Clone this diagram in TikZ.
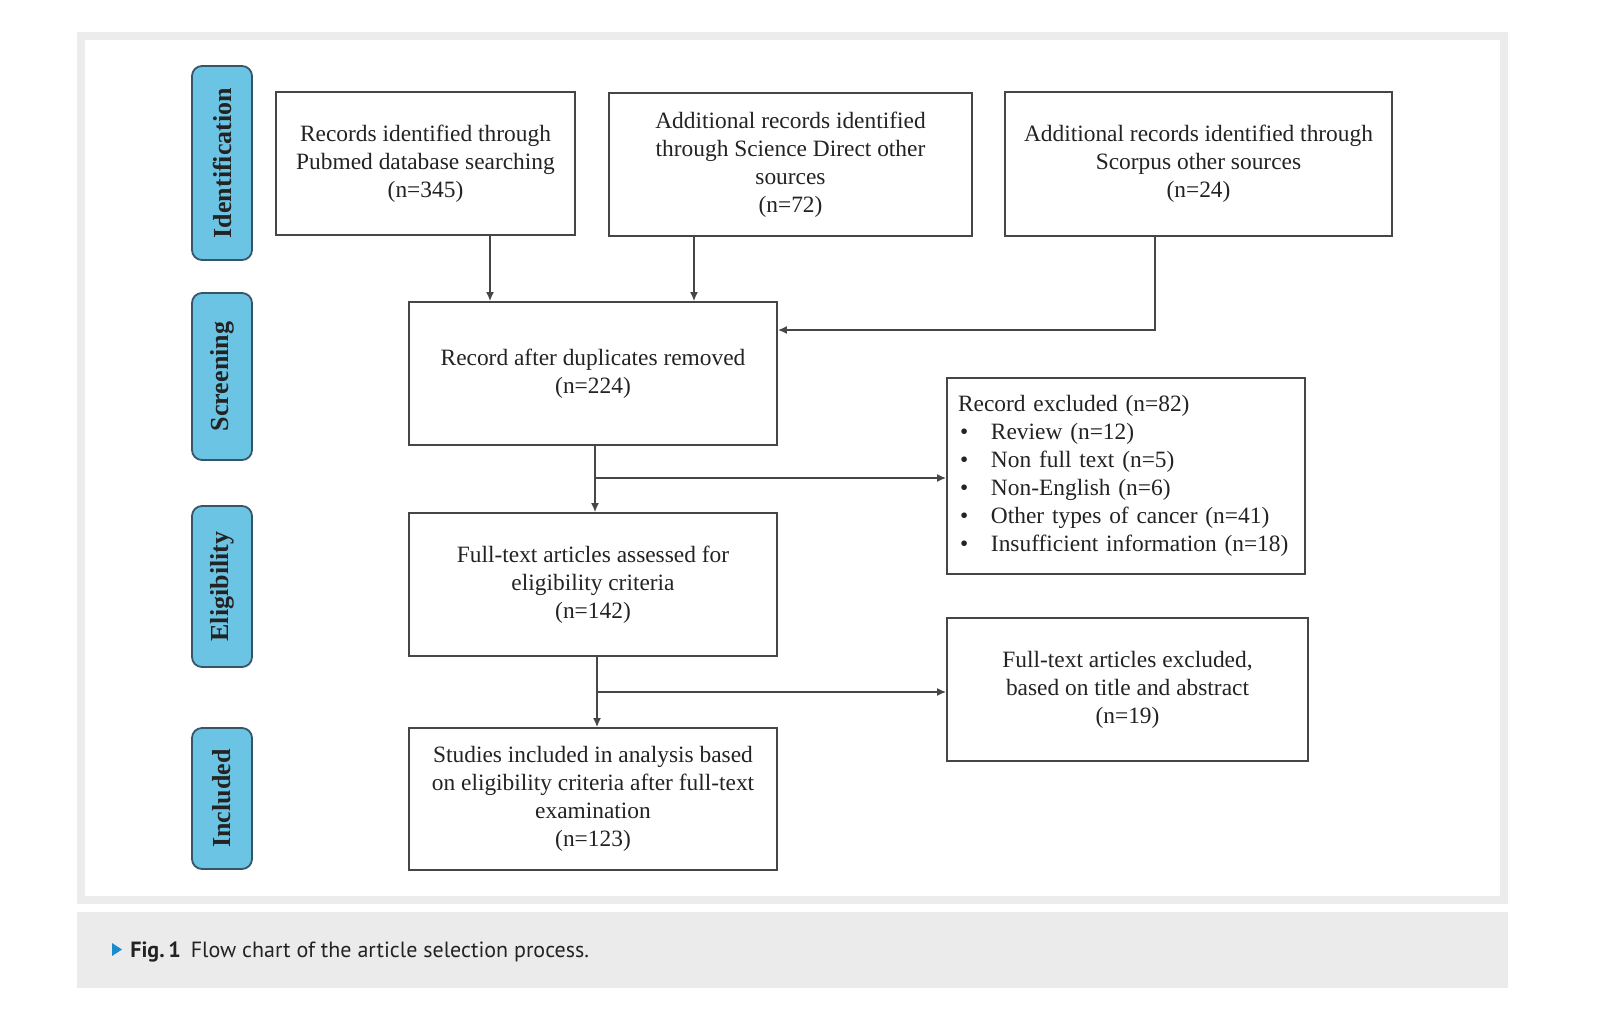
\documentclass[tikz,border=0pt]{standalone}
\usepackage{fontspec}
\setmainfont{Liberation Serif}
\newfontfamily\capfont{PT Sans}
\usetikzlibrary{arrows.meta,calc}
\definecolor{framegray}{RGB}{236,236,236}
\definecolor{capgray}{RGB}{235,235,235}
\definecolor{linegray}{RGB}{70,70,70}
\definecolor{txtgray}{RGB}{35,35,35}
\definecolor{tabblue}{RGB}{108,196,228}
\definecolor{tabedge}{RGB}{55,85,105}
\definecolor{capblue}{RGB}{25,140,205}
\tikzset{
  box/.style={draw=linegray, line width=0.9pt, fill=white, inner sep=0pt, align=center,
    text=txtgray, font=\fontsize{11.7}{14}\selectfont},
  tab/.style={draw=tabedge, line width=0.9pt, fill=tabblue, rounded corners=5pt, rotate=90,
    inner sep=0pt, minimum height=30pt, text=txtgray, font=\fontsize{13}{15}\selectfont\bfseries},
  arr/.style={draw=linegray, line width=0.8pt, -{Latex[length=4.5pt,width=4pt]}},
  ln/.style={draw=linegray, line width=0.8pt}
}
\begin{document}
\begin{tikzpicture}[x=0.5pt,y=-0.5pt]
\useasboundingbox (0,0) rectangle (1600,1034);
\fill[white] (0,0) rectangle (1600,1034);
% frame
\fill[framegray] (77,32) rectangle (1508,904);
\fill[white] (85,40) rectangle (1500,896);
% caption band
\fill[capgray] (77,912) rectangle (1508,988);
\fill[capblue] (112,943) -- (122,949.5) -- (112,956) -- cycle;
\node[anchor=base west, inner sep=0pt, text=txtgray, font=\capfont\fontsize{11}{13}\selectfont] (cap) at (130,957)
  {\textbf{Fig.\,1}\hspace{5pt}Flow chart of the article selection process.};
% side tabs
\node[tab, minimum width=97pt] (t1) at (222,163) {Identification};
\node[tab, minimum width=83.5pt] (t2) at (222,376.5) {Screening};
\node[tab, minimum width=80.5pt] (t3) at (222,586.5) {Eligibility};
\node[tab, minimum width=70.5pt] (t4) at (222,798.5) {Included};
% boxes
\node[box, minimum width=149.5pt, minimum height=71.5pt] (A) at (425.5,163.5)
  {Records identified through\\Pubmed database searching\\(n=345)};
\node[box, minimum width=181.5pt, minimum height=71.5pt] (B) at (790.5,164.5)
  {Additional records identified\\through Science Direct other\\sources\\(n=72)};
\node[box, minimum width=193.5pt, minimum height=72pt] (C) at (1198.5,164)
  {Additional records identified through\\Scorpus other sources\\(n=24)};
\node[box, minimum width=184pt, minimum height=71.5pt] (D) at (593,373.5)
  {Record after duplicates removed\\(n=224)};
\node[box, minimum width=179pt, minimum height=98pt, align=left, inner xsep=5.5pt, text width=168pt] (E) at (1126,476)
  {Record excluded (n=82)\\
   \hspace*{1pt}\makebox[15.5pt][l]{•}Review (n=12)\\
   \hspace*{1pt}\makebox[15.5pt][l]{•}Non full text (n=5)\\
   \hspace*{1pt}\makebox[15.5pt][l]{•}Non-English (n=6)\\
   \hspace*{1pt}\makebox[15.5pt][l]{•}Other types of cancer (n=41)\\
   \hspace*{1pt}\makebox[15.5pt][l]{•}Insufficient information (n=18)};
\node[box, minimum width=184pt, minimum height=71.5pt] (F) at (593,584.5)
  {Full-text articles assessed for\\eligibility criteria\\(n=142)};
\node[box, minimum width=180.5pt, minimum height=71.5pt] (G) at (1127.5,689.5)
  {Full-text articles excluded,\\based on title and abstract\\(n=19)};
\node[box, minimum width=184pt, minimum height=71pt] (H) at (593,799)
  {Studies included in analysis based\\on eligibility criteria after full-text\\examination\\(n=123)};
% connectors
\coordinate (a1) at (490,0);
\coordinate (b1) at (694,0);
\coordinate (c1) at (1155,330);
\coordinate (d1) at (595,478);
\coordinate (f1) at (597,692);
\draw[arr] (A.south -| a1) -- (D.north -| a1);
\draw[arr] (B.south -| b1) -- (D.north -| b1);
\draw[arr] (C.south -| c1) |- (D.east |- c1);
\draw[arr] (D.south -| d1) -- (F.north -| d1);
\draw[arr] (d1) -- (E.west |- d1);
\draw[arr] (F.south -| f1) -- (H.north -| f1);
\draw[arr] (f1) -- (G.west |- f1);
\end{tikzpicture}
\end{document}
